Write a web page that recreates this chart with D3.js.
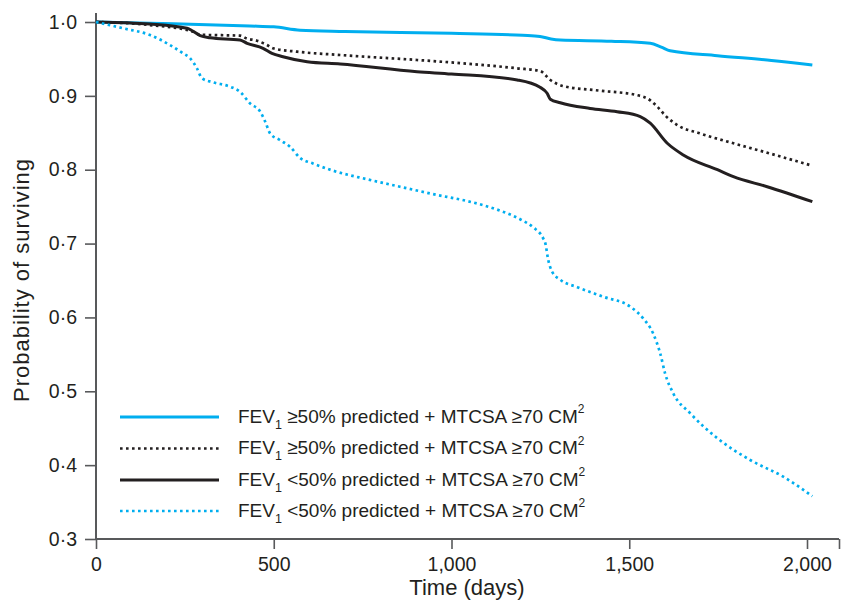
<!DOCTYPE html>
<html><head><meta charset="utf-8">
<script src="https://cdn.jsdelivr.net/npm/d3@7"></script>
<style>body{margin:0;background:#fff} svg{display:block}</style>
</head><body><svg id="c" width="850" height="601"></svg>
<script>
// ---- data ----
const xTicks = [0, 500, 1000, 1500, 2000];
const xTickLabels = ["0", "500", "1,000", "1,500", "2,000"];
const yTicks = [0.3, 0.4, 0.5, 0.6, 0.7, 0.8, 0.9, 1.0];
const yTickLabels = ["0·3", "0·4", "0·5", "0·6", "0·7", "0·8", "0·9", "1·0"];
const legendMid = [" ≥50% predicted + MTCSA ≥70 CM", " ≥50% predicted + MTCSA ≥70 CM", " <50% predicted + MTCSA ≥70 CM", " <50% predicted + MTCSA ≥70 CM"];

const fevHighBlue = [[0,1.0],[152,0.9982],[265,0.997],[433,0.9946],[500,0.9935],[574,0.989],[700,0.9872],[1000,0.9847],[1200,0.982],[1249,0.9805],[1280,0.977],[1306,0.9756],[1450,0.974],[1559,0.9712],[1590,0.966],[1615,0.961],[1748,0.9544],[1900,0.948],[2015,0.9418]];
const fevHighDotted = [[0,1.0],[152,0.9959],[273,0.9869],[293,0.9828],[405,0.9815],[425,0.9775],[453,0.9747],[481,0.9689],[498,0.9644],[566,0.9598],[687,0.9553],[903,0.9486],[996,0.9454],[1185,0.9373],[1249,0.9337],[1278,0.9215],[1314,0.9133],[1418,0.907],[1522,0.901],[1559,0.894],[1579,0.8853],[1600,0.874],[1635,0.8605],[1700,0.849],[1793,0.8358],[1888,0.823],[2015,0.8054]];
const fevLowSolid = [[0,1.0],[152,0.9972],[256,0.9915],[272,0.9878],[293,0.9815],[321,0.9787],[405,0.9756],[425,0.9712],[470,0.9644],[495,0.9576],[526,0.953],[594,0.9462],[687,0.9431],[903,0.9327],[1000,0.9296],[1185,0.9215],[1249,0.9116],[1269,0.9035],[1278,0.8955],[1306,0.8907],[1390,0.883],[1466,0.8786],[1531,0.872],[1559,0.863],[1607,0.8358],[1652,0.82],[1748,0.80],[1793,0.7906],[1888,0.777],[2015,0.7567]];
const fevLowDotted = [[0,1.0],[76,0.9915],[152,0.9824],[208,0.9689],[245,0.9576],[265,0.9508],[284,0.9373],[298,0.9238],[329,0.9184],[377,0.9124],[405,0.9056],[433,0.8899],[462,0.8786],[476,0.865],[490,0.849],[518,0.840],[546,0.831],[574,0.816],[610,0.8085],[667,0.7987],[763,0.787],[855,0.777],[948,0.767],[1044,0.7576],[1089,0.752],[1137,0.7445],[1193,0.733],[1230,0.722],[1258,0.707],[1264,0.7004],[1272,0.678],[1283,0.662],[1306,0.651],[1354,0.641],[1427,0.628],[1503,0.6145],[1539,0.5988],[1567,0.5785],[1587,0.5515],[1601,0.524],[1624,0.497],[1672,0.470],[1748,0.4364],[1840,0.407],[1933,0.3844],[2015,0.358]];

// ---- drawing ----
const BLUE = "#00aeef", BLACK = "#231f20", AXIS = "#58595b", TEXT = "#231f20";
const FONT = "'Liberation Sans', Arial, Helvetica, sans-serif";
const svg = d3.select("#c");
const x = d3.scaleLinear().domain([0, 2090]).range([96, 839]);
const y = d3.scaleLinear().domain([0.3, 1.0122]).range([539, 13]);

const series = [
  {data: fevHighBlue, color: BLUE, dash: null},
  {data: fevHighDotted, color: BLACK, dash: "2.6,3.4"},
  {data: fevLowSolid, color: BLACK, dash: null},
  {data: fevLowDotted, color: BLUE, dash: "2.6,3.4"}
];

const line = d3.line().x(d => x(d[0])).y(d => y(d[1])).curve(d3.curveMonotoneX);

// axes
const xAxis = d3.axisBottom(x).tickValues(xTicks.concat([2090])).tickSize(10).tickPadding(8)
  .tickFormat((d) => { const i = xTicks.indexOf(d); return i >= 0 ? xTickLabels[i] : ""; });
const gx = svg.append("g").attr("transform", `translate(0,${y(0.3)})`).call(xAxis);
const yAxis = d3.axisLeft(y).tickValues(yTicks).tickSize(11).tickPadding(8)
  .tickFormat((d) => yTickLabels[yTicks.indexOf(d)]);
const gy = svg.append("g").attr("transform", `translate(${x(0)},0)`).call(yAxis);
[gx, gy].forEach(g => {
  g.select(".domain").attr("stroke", AXIS).attr("stroke-width", 2);
  g.selectAll(".tick line").attr("stroke", AXIS).attr("stroke-width", 1.6);
  g.selectAll(".tick text").attr("fill", TEXT).attr("font-size", 19.5).attr("font-family", FONT);
});
gx.select(".domain").attr("d", `M${x(0)},0H${x(2090)}`);
gy.select(".domain").attr("d", `M0,${y(1.0122)}V${y(0.3)}`);

// lines
series.forEach(s => {
  svg.append("path").datum(s.data).attr("d", line)
    .attr("fill", "none").attr("stroke", s.color).attr("stroke-width", s.dash ? 2.7 : 3)
    .attr("stroke-dasharray", s.dash).attr("stroke-linejoin", "round");
});

// axis titles
svg.append("text").attr("transform", `translate(28.5,280) rotate(-90)`).attr("text-anchor", "middle")
  .attr("font-family", FONT).attr("font-size", 22).attr("letter-spacing", 1).attr("fill", TEXT).text("Probability of surviving");
svg.append("text").attr("x", 467).attr("y", 595).attr("text-anchor", "middle")
  .attr("font-family", FONT).attr("font-size", 22).attr("fill", TEXT).text("Time (days)");

// legend
const rowY = [417, 448.5, 480, 511];
series.forEach((s, i) => {
  const ly = rowY[i];
  svg.append("line").attr("x1", 120).attr("x2", 219).attr("y1", ly).attr("y2", ly)
    .attr("stroke", s.color).attr("stroke-width", s.dash ? 2.7 : 3).attr("stroke-dasharray", s.dash);
  const t = svg.append("text").attr("x", 238).attr("y", ly + 5.5).attr("font-family", FONT)
    .attr("font-size", 19).attr("fill", TEXT);
  t.append("tspan").text("FEV");
  t.append("tspan").attr("font-size", 12.5).attr("dy", 6).text("1");
  t.append("tspan").attr("dy", -6).text(legendMid[i]);
  t.append("tspan").attr("font-size", 12).attr("dy", -9.5).text("2");
});
</script></body></html>
